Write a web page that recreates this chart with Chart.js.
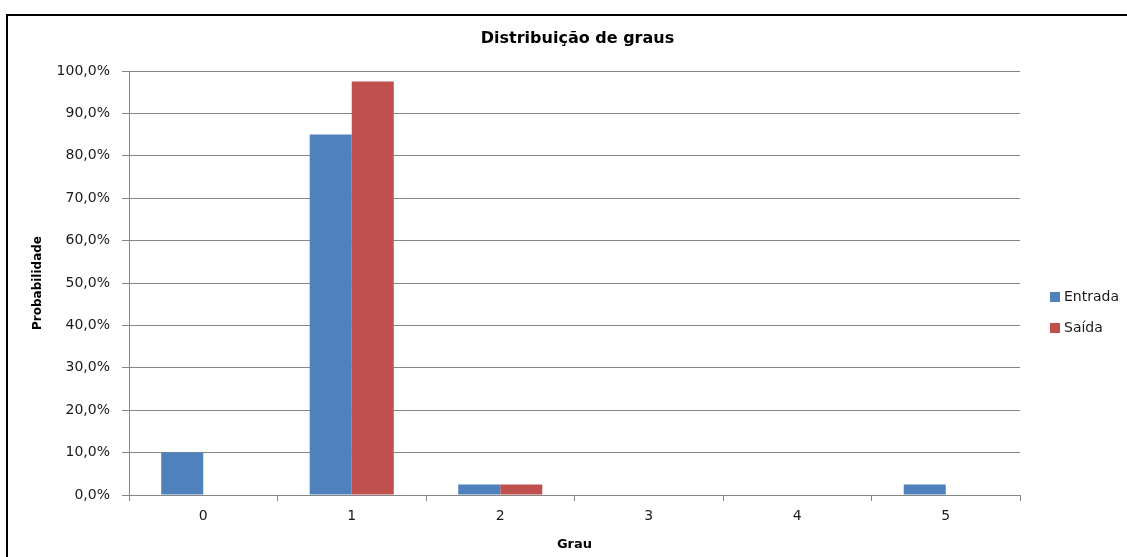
<!DOCTYPE html>
<html>
<head>
<meta charset="utf-8">
<script src="https://cdn.jsdelivr.net/npm/chart.js@4/dist/chart.umd.min.js"></script>
<style>
  html, body { margin: 0; padding: 0; background: #fff; overflow: hidden; }
  #grafico { display: block; }
</style>
</head>
<body>
<canvas id="grafico" width="1127" height="557"></canvas>
<script>
const graus = ['0', '1', '2', '3', '4', '5'];
const entrada = [10, 85, 2.5, 0, 0, 2.5];
const saida = [0, 97.5, 2.5, 0, 0, 0];
const yTicks = [0, 10, 20, 30, 40, 50, 60, 70, 80, 90, 100];
const titulo = 'Distribuição de graus';

const fonte = "'DejaVu Sans', sans-serif";
const cinza = '#868686';
const texto = '#1a1a1a';

// outer frame of the chart object (only its top and left edges fall inside)
const moldura = {
    id: 'moldura',
    beforeDraw(chart) {
        const ctx = chart.ctx;
        ctx.save();
        ctx.strokeStyle = '#000';
        ctx.lineWidth = 2;
        ctx.beginPath();
        ctx.moveTo(7, chart.height + 5);
        ctx.lineTo(7, 15);
        ctx.lineTo(chart.width + 5, 15);
        ctx.stroke();
        ctx.restore();
    }
};

// title centred over the plot and legend to the right, both drawn by hand
const textosLaterais = {
    id: 'textosLaterais',
    afterDraw(chart) {
        const ctx = chart.ctx;
        const area = chart.chartArea;
        ctx.save();
        ctx.fillStyle = '#000';
        ctx.font = 'bold 16px ' + fonte;
        ctx.textAlign = 'center';
        ctx.textBaseline = 'middle';
        ctx.fillText(titulo, (area.left + area.right) / 2 + 3, 39);

        const meio = (area.top + area.bottom) / 2;
        ctx.font = '14px ' + fonte;
        ctx.textAlign = 'left';
        chart.data.datasets.forEach((ds, i) => {
            const y = meio + 14 + i * 31;
            ctx.fillStyle = ds.backgroundColor;
            ctx.fillRect(area.right + 30, y - 5, 10, 10);
            ctx.fillStyle = texto;
            ctx.fillText(ds.label, area.right + 44, y);
        });
        ctx.restore();
    }
};

const ctx = document.querySelector('#grafico').getContext('2d');

const chart = new Chart(ctx, {
    type: 'bar',
    data: {
        labels: graus,
        datasets: [{
            label: 'Entrada',
            data: entrada,
            backgroundColor: '#4F81BD',
            barPercentage: 1,
            categoryPercentage: 0.566
        }, {
            label: 'Saída',
            data: saida,
            backgroundColor: '#C0504D',
            barPercentage: 1,
            categoryPercentage: 0.566
        }]
    },
    options: {
        responsive: false,
        animation: false,
        layout: { padding: { left: 0, right: 107, top: 71, bottom: 0 } },
        plugins: {
            legend: { display: false },
            tooltip: { enabled: false },
            title: { display: false }
        },
        scales: {
            x: {
                afterFit(scale) { scale.height = 62; },
                grid: {
                    display: true,
                    drawOnChartArea: false,
                    drawTicks: true,
                    tickLength: 6,
                    color: cinza,
                    offset: true
                },
                border: { color: cinza },
                ticks: {
                    color: texto,
                    padding: 7,
                    font: { family: fonte, size: 14 }
                },
                title: {
                    display: true,
                    text: 'Grau',
                    color: '#000',
                    font: { family: fonte, size: 13, weight: 'bold' },
                    padding: { top: 0, bottom: 5 }
                }
            },
            y: {
                min: 0,
                max: 100,
                afterFit(scale) { scale.width = 129; },
                afterBuildTicks(scale) {
                    scale.ticks = yTicks.map(v => ({ value: v }));
                },
                grid: {
                    color: cinza,
                    tickLength: 7
                },
                border: { color: cinza },
                ticks: {
                    color: texto,
                    padding: 12,
                    font: { family: fonte, size: 14 },
                    callback: v => v.toFixed(1).replace('.', ',') + '%'
                },
                title: {
                    display: true,
                    text: 'Probabilidade',
                    color: '#000',
                    font: { family: fonte, size: 12, weight: 'bold' },
                    padding: { top: 31, bottom: 0 }
                }
            }
        }
    },
    plugins: [moldura, textosLaterais]
});
</script>
</body>
</html>
